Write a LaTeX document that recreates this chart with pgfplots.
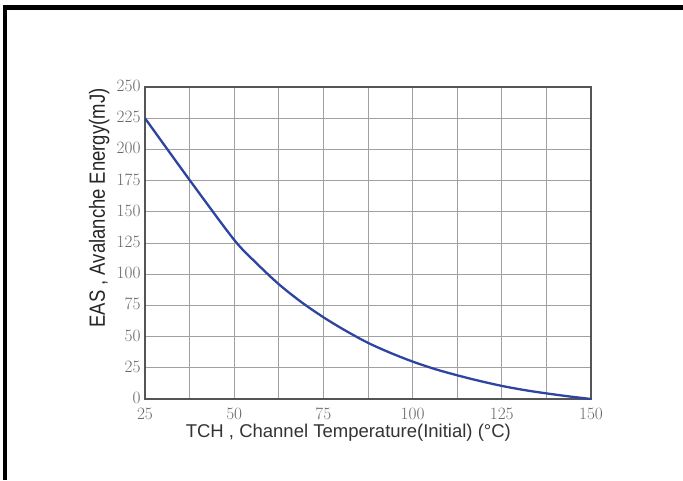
\documentclass[border=0pt]{standalone}
\usepackage{pgfplots}
\pgfplotsset{compat=1.18}
\usepackage{graphicx}
\usepackage{fontspec}
\setsansfont{Liberation Sans}
\definecolor{curveblue}{RGB}{45,68,160}
\definecolor{gridgray}{RGB}{160,160,160}
\definecolor{framegray}{RGB}{85,85,85}
\definecolor{ticktext}{RGB}{105,105,105}
\begin{document}
\begin{tikzpicture}[x=1pt,y=1pt]
\useasboundingbox (0,0) rectangle (683,480);
\fill[white] (0,0) rectangle (683,480);
\draw[black, line width=5pt] (3,472.5) -- (683,472.5);
\draw[black, line width=4.5pt] (5,0) -- (5,475);
\begin{axis}[
  at={(145pt,81pt)}, anchor=south west,
  scale only axis, width=446pt, height=312pt,
  xmin=25, xmax=150, ymin=0, ymax=250,
  xtick={25,50,...,150}, ytick={0,25,...,250},
  minor x tick num=1,
  grid=both,
  grid style={gridgray, line width=1pt},
  minor grid style={gridgray, line width=1pt},
  major tick length=0pt, minor tick length=0pt,
  axis line style={framegray, line width=1.4pt},
  ticklabel style={font=\fontsize{17}{17}\selectfont, text=ticktext},
  xticklabel style={yshift=-6pt},
  yticklabel style={xshift=-1pt, yshift=1pt},
  xlabel={TCH , Channel Temperature(Initial) (°C)},
  xlabel style={at={(axis description cs:0.456,-0.108)}, anchor=center,
    font=\sffamily\fontsize{18.5}{20}\selectfont, text=black!80},
  ylabel={\scalebox{0.84}[1]{EAS , Avalanche Energy(mJ)}},
  ylabel style={at={(axis description cs:-0.103,0.612)}, anchor=center, rotate=0,
    font=\sffamily\fontsize{22}{24}\selectfont, text=black!85},
]
\addplot[curveblue, line width=2.3pt, smooth] coordinates {
(25,225) (37.5,175.5) (50,127.5) (56.25,108.8) (62.5,92) (68.75,77.8)
(75,65.5) (81.25,54.7) (87.5,45) (93.75,37)
(100,30) (106.25,24) (112.5,19) (118.75,14.5) (125,10.5) (131.25,7.2)
(137.5,4.5) (143.75,2.1) (150,0)
};
\end{axis}
\end{tikzpicture}
\end{document}
